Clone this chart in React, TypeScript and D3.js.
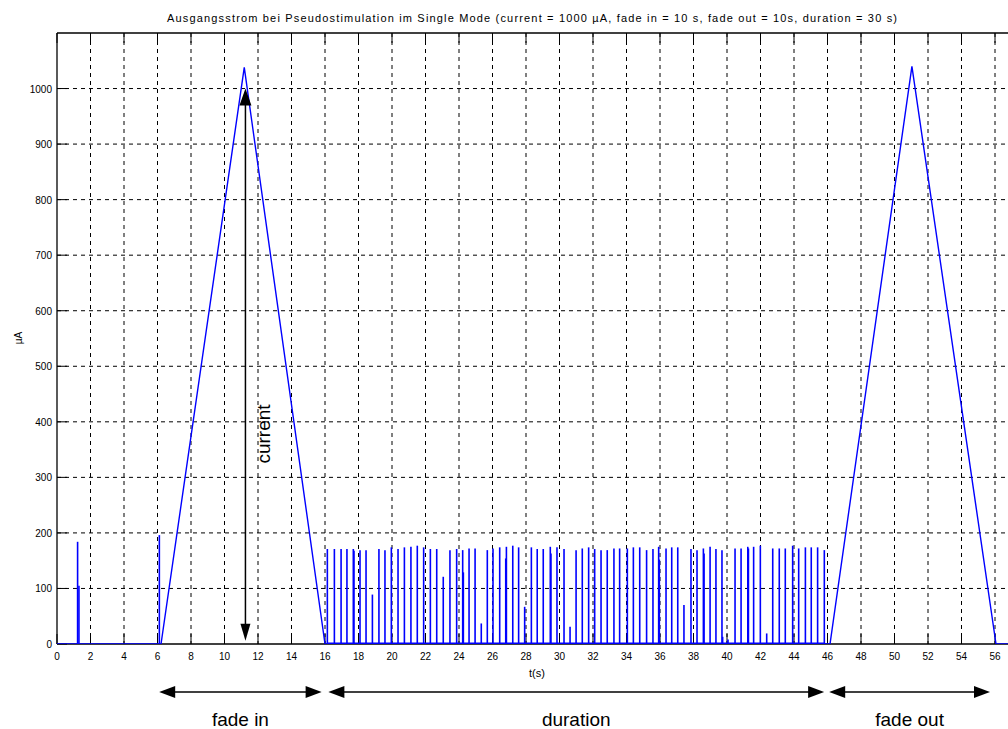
import React from 'react';
import * as d3 from 'd3';

const W = 1008, H = 729;

const title = 'Ausgangsstrom bei Pseudostimulation im Single Mode (current = 1000 µA, fade in = 10 s, fade out = 10s, duration = 30 s)';
const xLabel = 't(s)';
const yLabel = 'µA';

const xTickValues = [0, 2, 4, 6, 8, 10, 12, 14, 16, 18, 20, 22, 24, 26, 28, 30, 32, 34, 36, 38, 40, 42, 44, 46, 48, 50, 52, 54, 56, 58];
const yTickValues = [0, 100, 200, 300, 400, 500, 600, 700, 800, 900, 1000];

// fade in / fade out envelope (s, µA)
const envTimes = [0, 6.21, 11.18, 16.0, 46.15, 51.04, 56.06, 60];
const envValues = [0, 0, 1038, 0, 0, 1040, 0, 0];

// single spikes before the fade in
const preTimes = [1.23, 1.31, 6.11];
const preValues = [184, 105, 196];

// pulses during "duration"
const pulseTimes = [
  16.14, 16.56, 16.96, 17.31, 17.69, 18.09, 18.45, 18.83, 19.22, 19.58,
  19.96, 20.36, 20.74, 21.13, 21.51, 21.89, 22.29, 22.67, 23.06, 23.46,
  23.86, 24.22, 24.6, 24.96, 25.33, 25.69, 26.03, 26.43, 26.83, 27.21,
  27.56, 27.92, 28.32, 28.67, 29.03, 29.45, 29.85, 30.27, 30.63, 30.99,
  31.36, 31.74, 32.1, 32.48, 32.85, 33.25, 33.59, 34.05, 34.41, 34.79,
  35.2, 35.58, 35.92, 36.36, 36.7, 37.06, 37.43, 37.85, 38.21, 38.59,
  38.99, 39.34, 39.7, 40.06, 40.48, 40.84, 41.24, 41.59, 41.99, 42.37,
  42.73, 43.12, 43.48, 43.92, 44.28, 44.68, 45.03, 45.41, 45.81,
];
const pulseValues = [
  171, 171, 171, 171, 171, 169, 169, 89, 171, 169,
  174, 171, 174, 175, 177, 174, 171, 171, 121, 169,
  171, 169, 172, 172, 37, 169, 172, 174, 175, 177,
  174, 67, 174, 171, 171, 175, 174, 171, 31, 169,
  172, 174, 171, 169, 169, 172, 172, 172, 174, 174,
  169, 171, 175, 172, 174, 174, 70, 171, 169, 172,
  175, 171, 169, 8, 172, 172, 175, 175, 177, 19,
  172, 172, 172, 177, 172, 174, 174, 174, 169,
];

// lower side spikes next to some pulses
const shoulderTimes = [17.73, 24.26, 26.79, 29.49, 35.96, 38.63, 39.74, 41.28];
const shoulderValues = [168, 129, 154, 163, 152, 163, 13, 172];

// annotations
const currentArrow = { t: 11.25, from: 6, to: 1000, text: 'current' };
const spanLabels = ['fade in', 'duration', 'fade out'];
const spanStarts = [6.1, 16.2, 46.1];
const spanEnds = [15.8, 45.8, 55.7];

const x = d3.scaleLinear().domain([0, 60]).range([57, 57 + 60 * 16.75]);
const y = d3.scaleLinear().domain([0, 1100]).range([644, 33]);

const font = '"Liberation Sans", Arial, Helvetica, sans-serif';
const blue = '#0000ff';

const envLine = d3.line<number>()
  .x((_, i) => x(envTimes[i]))
  .y(d => y(d));

const arrowHead = (tx: number, ty: number, dx: number, dy: number, len: number, hw: number) => {
  // tip at (tx,ty), pointing in direction (dx,dy)
  const bx = tx - dx * len, by = ty - dy * len;
  const px = -dy * hw, py = dx * hw;
  return `M${tx},${ty}L${bx + px},${by + py}L${bx - px},${by - py}Z`;
};

export default function App() {
  const top = y(1100), bottom = y(0), left = x(0), right = x(60);
  const tickLen = 10;
  const arrowY = 692;

  return (
    <div style={{ position: 'absolute', left: 0, top: 0, background: '#fff' }}>
      <svg width={W} height={H} style={{ display: 'block', background: '#fff' }}>
        <clipPath id="plot">
          <rect x={left} y={top - 20} width={right - left} height={bottom - top + 20} />
        </clipPath>

        {/* grid */}
        <g stroke="#000" strokeWidth={1} strokeDasharray="4,4">
          {xTickValues.filter(v => v > 0).map(v => (
            <line key={'gx' + v} x1={x(v)} x2={x(v)} y1={top} y2={bottom} />
          ))}
          {yTickValues.filter(v => v > 0).map(v => (
            <line key={'gy' + v} x1={left} x2={right} y1={y(v)} y2={y(v)} />
          ))}
        </g>

        {/* ticks */}
        <g stroke="#000" strokeWidth={1}>
          {xTickValues.map(v => (
            <g key={'tx' + v}>
              <line x1={x(v)} x2={x(v)} y1={bottom} y2={bottom - tickLen} />
              <line x1={x(v)} x2={x(v)} y1={top} y2={top + tickLen} />
            </g>
          ))}
          {yTickValues.map(v => (
            <line key={'ty' + v} x1={left} x2={left + tickLen} y1={y(v)} y2={y(v)} />
          ))}
        </g>

        {/* axes box */}
        <g stroke="#000" strokeWidth={1.3} fill="none">
          <line x1={left} x2={right} y1={top} y2={top} />
          <line x1={left} x2={right} y1={bottom} y2={bottom} />
          <line x1={left} x2={left} y1={top} y2={bottom} />
          <line x1={right} x2={right} y1={top} y2={bottom} />
        </g>

        {/* signal */}
        <g clipPath="url(#plot)" stroke={blue} fill="none">
          <path d={envLine(envValues) || ''} strokeWidth={1.4} />
          {preTimes.map((t, i) => (
            <line key={'pre' + i} x1={x(t)} x2={x(t)} y1={y(0)} y2={y(preValues[i])} strokeWidth={1.6} />
          ))}
          {pulseTimes.map((t, i) => (
            <line key={'p' + i} x1={x(t)} x2={x(t)} y1={y(0)} y2={y(pulseValues[i])} strokeWidth={1.6} />
          ))}
          {shoulderTimes.map((t, i) => (
            <line key={'s' + i} x1={x(t)} x2={x(t)} y1={y(0)} y2={y(shoulderValues[i])} strokeWidth={1.6} />
          ))}
          <line x1={x(pulseTimes[0])} x2={x(pulseTimes[pulseTimes.length - 1])} y1={y(0) - 0.5} y2={y(0) - 0.5} strokeWidth={2} />
        </g>

        {/* tick labels */}
        <g fontFamily={font} fontSize={10} fill="#000">
          {xTickValues.map(v => (
            <text key={'lx' + v} x={x(v)} y={bottom + 16} textAnchor="middle">{v}</text>
          ))}
          {yTickValues.map(v => (
            <text key={'ly' + v} x={left - 5} y={y(v) + 4} textAnchor="end">{v}</text>
          ))}
        </g>

        {/* title and axis labels */}
        <text x={532} y={22} fontFamily={font} fontSize={11} textAnchor="middle"
          textLength={730} lengthAdjust="spacing">{title}</text>
        <text x={537} y={677} fontFamily={font} fontSize={11} textAnchor="middle">{xLabel}</text>
        <text transform={`translate(22,338) rotate(-90)`} fontFamily={font} fontSize={10} textAnchor="middle">{yLabel}</text>

        {/* current arrow */}
        <g stroke="#000" fill="#000">
          <line x1={x(currentArrow.t)} x2={x(currentArrow.t)} y1={y(currentArrow.from) - 10} y2={y(currentArrow.to) + 10} strokeWidth={1.5} />
          <path d={arrowHead(x(currentArrow.t), y(currentArrow.to), 0, -1, 17, 6)} stroke="none" />
          <path d={arrowHead(x(currentArrow.t), y(currentArrow.from), 0, 1, 17, 5)} stroke="none" />
        </g>
        <text transform={`translate(${x(currentArrow.t) + 25},434) rotate(-90)`} fontFamily={font} fontSize={19} textAnchor="middle">
          {currentArrow.text}
        </text>

        {/* span arrows */}
        {spanLabels.map((lab, i) => {
          const x0 = x(spanStarts[i]), x1 = x(spanEnds[i]);
          return (
            <g key={lab}>
              <line x1={x0 + 8} x2={x1 - 8} y1={arrowY} y2={arrowY} stroke="#000" strokeWidth={1.5} />
              <path d={arrowHead(x0, arrowY, -1, 0, 16, 6)} fill="#000" />
              <path d={arrowHead(x1, arrowY, 1, 0, 16, 6)} fill="#000" />
              <text x={(x0 + x1) / 2} y={726} fontFamily={font} fontSize={19} textAnchor="middle">{lab}</text>
            </g>
          );
        })}
      </svg>
    </div>
  );
}
